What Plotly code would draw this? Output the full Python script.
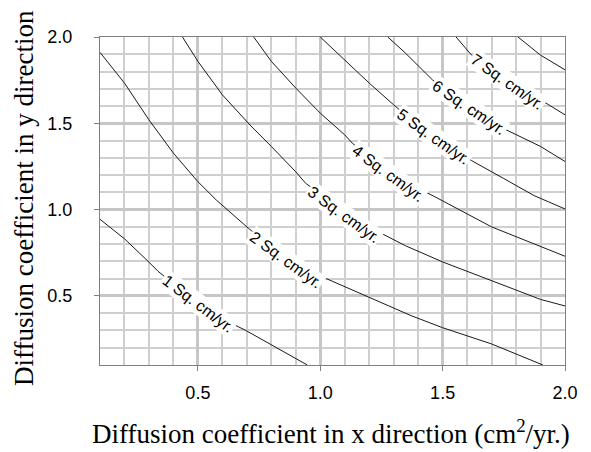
import plotly.graph_objects as go

# Contour lines (x = Dx, y = Dy)
level_names = ["1 Sq. cm/yr.", "2 Sq. cm/yr.", "3 Sq. cm/yr.", "4 Sq. cm/yr.",
               "5 Sq. cm/yr.", "6 Sq. cm/yr.", "7 Sq. cm/yr."]

line1_x = [0.10, 0.20, 0.30, 0.337, 0.48, 0.643, 0.696, 0.80, 0.90, 0.947]
line1_y = [0.944, 0.831, 0.696, 0.643, 0.48, 0.337, 0.30, 0.219, 0.141, 0.10]

line2_x = [0.10, 0.20, 0.30, 0.40, 0.50, 0.575, 0.708, 0.86, 1.027, 1.20, 1.371, 1.50, 1.70, 1.91]
line2_y = [1.911, 1.733, 1.52, 1.327, 1.162, 1.056, 0.89, 0.72, 0.599, 0.492, 0.386, 0.316, 0.222, 0.10]

line3_x = [0.437, 0.50, 0.60, 0.713, 0.80, 0.90, 0.94, 1.093, 1.26, 1.348, 1.50, 1.70, 1.90, 2.00]
line3_y = [2.00, 1.859, 1.665, 1.49, 1.366, 1.219, 1.153, 0.995, 0.855, 0.791, 0.697, 0.587, 0.48, 0.442]

line4_x = [0.728, 0.80, 0.90, 1.00, 1.10, 1.131, 1.28, 1.473, 1.70, 1.90, 2.00]
line4_y = [2.00, 1.859, 1.704, 1.559, 1.433, 1.385, 1.21, 1.071, 0.90, 0.785, 0.73]

line5_x = [1.00, 1.10, 1.20, 1.30, 1.314, 1.461, 1.617, 1.75, 1.874, 2.00]
line5_y = [2.00, 1.868, 1.733, 1.607, 1.59, 1.421, 1.285, 1.18, 1.081, 1.004]

line6_x = [1.276, 1.348, 1.458, 1.608, 1.76, 1.90, 2.00]
line6_y = [2.00, 1.907, 1.752, 1.593, 1.462, 1.366, 1.279]

line7_x = [1.555, 1.617, 1.762, 1.911, 2.00]
line7_y = [2.00, 1.897, 1.741, 1.627, 1.549]

line8_x = [1.808, 1.90, 2.00]
line8_y = [2.00, 1.895, 1.81]

# Label positions (centre) and angles
label_x = [0.50, 0.858, 1.096, 1.278, 1.461, 1.608, 1.762]
label_y = [0.456, 0.713, 0.974, 1.209, 1.421, 1.593, 1.741]
label_angle = [37, 36, 36, 36, 35, 34, 35]

x_ticks = [0.5, 1.0, 1.5, 2.0]
y_ticks = [0.5, 1.0, 1.5, 2.0]

lines = [(line1_x, line1_y), (line2_x, line2_y), (line3_x, line3_y), (line4_x, line4_y),
         (line5_x, line5_y), (line6_x, line6_y), (line7_x, line7_y), (line8_x, line8_y)]

fig = go.Figure()
for lx, ly in lines:
    fig.add_trace(go.Scatter(x=lx, y=ly, mode="lines",
                             line=dict(color="#1a1a1a", width=1),
                             hoverinfo="skip", showlegend=False))

sans = "Liberation Sans, Arial, sans-serif"
serif = "Liberation Serif, Times New Roman, serif"

for lx, ly, ang, name in zip(label_x, label_y, label_angle, level_names):
    fig.add_annotation(x=lx, y=ly, xref="x", yref="y", text=name, showarrow=False,
                       textangle=ang, bgcolor="white", borderpad=1,
                       font=dict(family=sans, size=16, color="black"))

axis_common = dict(
    showgrid=True, gridcolor="#c6c6c6", gridwidth=2.5,
    minor=dict(dtick=0.1, tick0=0, showgrid=True, gridcolor="#cfcfcf", gridwidth=1.5, ticks=""),
    showline=True, linecolor="#7f7f7f", linewidth=1, mirror=True,
    ticks="outside", ticklen=5, tickcolor="#7f7f7f", tickwidth=1,
    zeroline=False, tickformat=".1f",
    tickfont=dict(family=sans, size=18, color="black"),
)

fig.update_xaxes(range=[0.1, 2.0], tickvals=x_ticks, ticklabelstandoff=6, **axis_common)
fig.update_yaxes(range=[0.1, 2.0], tickvals=y_ticks, ticklabelstandoff=18, **axis_common)

fig.add_annotation(x=0.497, y=-0.145, xref="paper", yref="paper", xanchor="center", yanchor="top",
                   text="Diffusion coefficient in x direction (cm<sup>2</sup>/yr.)",
                   showarrow=False, font=dict(family=serif, size=27, color="black"))
fig.add_annotation(x=-0.165, y=0.51, xref="paper", yref="paper", xanchor="center", yanchor="middle",
                   text="Diffusion coefficient in y direction", textangle=-90,
                   showarrow=False, font=dict(family=serif, size=27, color="black"))

fig.update_layout(
    width=591, height=452,
    margin=dict(l=100, r=26, t=37, b=87),
    plot_bgcolor="white", paper_bgcolor="white",
    showlegend=False,
)

fig.write_html("out.html")
